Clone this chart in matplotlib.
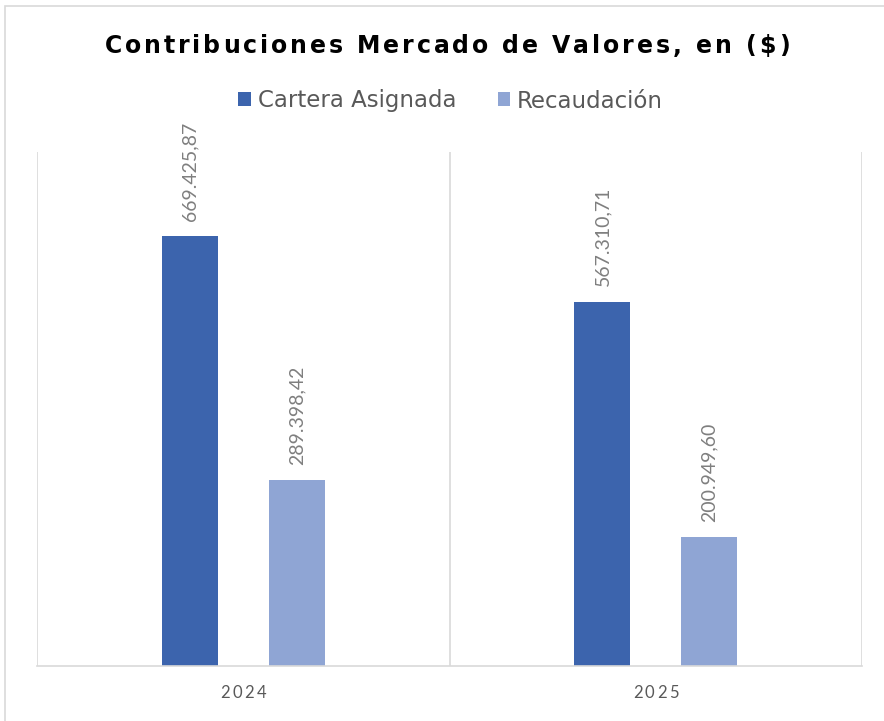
import matplotlib.pyplot as plt
import matplotlib.patches as mpatches
from matplotlib.font_manager import FontProperties
import numpy as np

years = ["2024", "2025"]
cartera = [669425.87, 567310.71]
recaudacion = [289398.42, 200949.60]
labels_cartera = ["669.425,87", "567.310,71"]
labels_recaudacion = ["289.398,42", "200.949,60"]
title = "Contribuciones Mercado de Valores, en ($)"

dark_blue = "#3C64AD"
light_blue = "#8FA5D4"
grey_text = "#7F7F7F"

plt.rcParams['font.family'] = ['Lato', 'DejaVu Sans']

fig = plt.figure(figsize=(8.84, 7.21), dpi=100)
ax = fig.add_axes([37 / 884, 55 / 721, 825 / 884, 514 / 721])
renderer = fig.canvas.get_renderer()


def spaced_text(s, xc, yc, spacing, prop, color):
    """draw text char by char with extra letter spacing (px), centred at (xc, yc) px"""
    widths = [renderer.get_text_width_height_descent(c, prop, ismath=False)[0] for c in s]
    total = sum(widths) + spacing * (len(s) - 1)
    xpos = xc - total / 2
    for c, w in zip(s, widths):
        fig.text(xpos / fig.bbox.width, yc / fig.bbox.height, c, fontproperties=prop,
                 color=color, ha="left", va="center")
        xpos += w + spacing


# chart border
fig.patches.append(mpatches.Rectangle((5 / 884, -0.01), 1.0, 1.0 - 6 / 721 + 0.01,
                                      transform=fig.transFigure, fill=False,
                                      edgecolor="#D9D9D9", linewidth=1.2))

x = np.arange(len(years)) + 0.5
width = 0.136
offset = 0.1295

bars1 = ax.bar(x - offset, cartera, width, color=dark_blue, label="Cartera Asignada")
bars2 = ax.bar(x + offset, recaudacion, width, color=light_blue, label="Recaudación")

for bars, labels in ((bars1, labels_cartera), (bars2, labels_recaudacion)):
    for b, lab in zip(bars, labels):
        ax.annotate(lab, (b.get_x() + b.get_width() / 2, b.get_height()),
                    xytext=(0, 11), textcoords="offset points",
                    rotation=90, ha="center", va="bottom",
                    fontsize=14, color=grey_text)

ax.set_xlim(0, len(years))
ax.set_ylim(0, 800000)
ax.set_yticks([])
ax.set_xticks([])

# vertical category separators
for v in range(len(years) + 1):
    ax.axvline(v, color="#D9D9D9", linewidth=1.2, zorder=0)

for s in ["top", "right", "left"]:
    ax.spines[s].set_visible(False)
ax.spines["bottom"].set_color("#D9D9D9")
ax.spines["bottom"].set_linewidth(1.2)

# category labels with letter spacing
tick_prop = FontProperties(family="Lato", size=12)
for xi, yr in zip(x, years):
    px = ax.transData.transform((xi, 0))[0]
    spaced_text(yr, px, 721 - 693, 2.5, tick_prop, "#595959")

title_prop = FontProperties(family="DejaVu Sans", weight="bold", size=17)
spaced_text(title, 884 / 2 + 5, 721 - 46, 2.9, title_prop, "black")

fig.legend(handles=[bars1, bars2], loc="center", bbox_to_anchor=(0.51, 1 - 101 / 721),
           ncol=2, frameon=False, prop=FontProperties(family="DejaVu Sans", size=16.5),
           handlelength=0.55, handleheight=0.55,
           handletextpad=0.3, columnspacing=1.8, labelcolor="#595959")

fig.savefig("out.png", dpi=100)
